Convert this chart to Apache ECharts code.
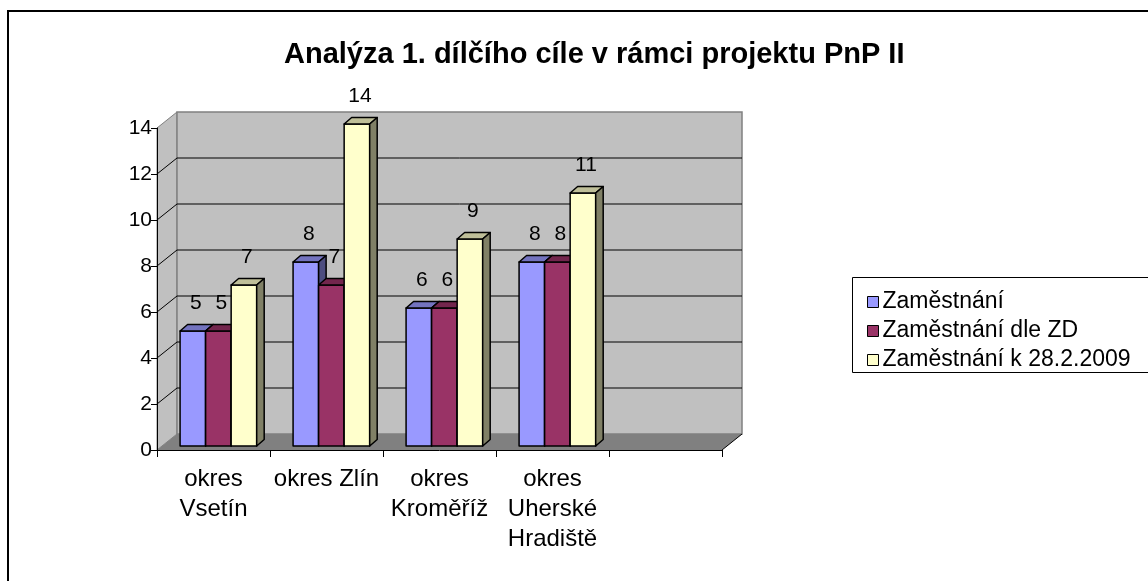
<!DOCTYPE html>
<html>
<head>
<meta charset="utf-8">
<script src="https://cdn.jsdelivr.net/npm/echarts@6/dist/echarts.min.js"></script>
<style>
  html, body { margin: 0; padding: 0; background: #fff; }
  #main { width: 1148px; height: 581px; }
</style>
</head>
<body>
<div id="main"></div>
<script>
// data
const categories = ['okres\nVsetín', 'okres Zlín', 'okres\nKroměříž', 'okres\nUherské\nHradiště', '']
const seriesNames = ['Zaměstnání', 'Zaměstnání dle ZD', 'Zaměstnání k 28.2.2009']
const zamestnani = [5, 8, 6, 8]
const zamestnaniZD = [5, 7, 6, 8]
const zamestnani2009 = [7, 14, 9, 11]
const yTicks = [0, 2, 4, 6, 8, 10, 12, 14]

const colors = ['#9999FF', '#993366', '#FFFFCC']
const FONT = 'Liberation Sans, Arial, sans-serif'
const yMax = yTicks[yTicks.length - 1]
const WALL_D = [20, -16]      // depth of the walls
const BAR_SHIFT = [5, -4]     // bars sit a bit behind the front plane
const BAR_D = [7.5, -6.5]     // depth of each bar

function shade(hex, f) {
  const n = parseInt(hex.slice(1), 16)
  const r = Math.round(((n >> 16) & 255) * f)
  const g = Math.round(((n >> 8) & 255) * f)
  const b = Math.round((n & 255) * f)
  return 'rgb(' + r + ',' + g + ',' + b + ')'
}

function renderWalls(params, api) {
  const band = api.size([1, 0])[0]
  const p0 = api.coord([0, 0])
  const pN = api.coord([categories.length - 1, 0])
  const x0 = p0[0] - band / 2
  const x1 = pN[0] + band / 2
  const yb = p0[1]
  const yt = api.coord([0, yMax])[1]
  const dx = WALL_D[0], dy = WALL_D[1]
  const children = [
    {
      type: 'polygon',
      shape: { points: [[x0, yt], [x0 + dx, yt + dy], [x0 + dx, yb + dy], [x0, yb]] },
      style: { fill: '#C0C0C0', stroke: '#808080', lineWidth: 1 }
    },
    {
      type: 'rect',
      shape: { x: x0 + dx, y: yt + dy, width: x1 - x0, height: yb - yt },
      style: { fill: '#C0C0C0', stroke: '#808080', lineWidth: 1.5 }
    },
    {
      type: 'polygon',
      shape: { points: [[x0, yb], [x1, yb], [x1 + dx, yb + dy], [x0 + dx, yb + dy]] },
      style: { fill: '#808080' }
    },
    {
      type: 'line',
      shape: { x1: x1, y1: yb, x2: x1 + dx, y2: yb + dy },
      style: { stroke: '#000', lineWidth: 1 }
    }
  ]
  yTicks.forEach(function (v) {
    if (v === 0 || v === yMax) return
    const y = api.coord([0, v])[1]
    children.push({
      type: 'line',
      shape: { x1: x0 + dx, y1: y + dy, x2: x1 + dx, y2: y + dy },
      style: { stroke: '#000', lineWidth: 1 }
    })
    children.push({
      type: 'line',
      shape: { x1: x0, y1: y, x2: x0 + dx, y2: y + dy },
      style: { stroke: '#000', lineWidth: 1 }
    })
  })
  return { type: 'group', children: children }
}

function makeBarRenderer(s) {
  return function (params, api) {
    const ci = api.value(0)
    const v = api.value(1)
    const band = api.size([1, 0])[0]
    const top = api.coord([ci, v])
    const base = api.coord([ci, 0])
    const w = band * 0.226
    const xl = top[0] - band / 2 + band * 0.16 + w * s + BAR_SHIFT[0]
    const xr = xl + w
    const yt = top[1] + BAR_SHIFT[1]
    const yb = base[1] + BAR_SHIFT[1]
    const dx = BAR_D[0], dy = BAR_D[1]
    const c = colors[s]
    const line = { stroke: '#000', lineWidth: 1.5, lineJoin: 'round' }
    return {
      type: 'group',
      children: [
        {
          type: 'rect',
          shape: { x: xl, y: yt, width: w, height: yb - yt },
          style: Object.assign({ fill: c }, line)
        },
        {
          type: 'polygon',
          shape: { points: [[xl, yt], [xl + dx, yt + dy], [xr + dx, yt + dy], [xr, yt]] },
          style: Object.assign({ fill: shade(c, 0.75) }, line)
        },
        {
          type: 'polygon',
          shape: { points: [[xr, yt], [xr + dx, yt + dy], [xr + dx, yb + dy], [xr, yb]] },
          style: Object.assign({ fill: shade(c, 0.5) }, line)
        },
        {
          type: 'text',
          style: {
            x: xl + w / 2 + 3,
            y: yt - 28,
            text: String(v),
            textAlign: 'center',
            textVerticalAlign: 'middle',
            fill: '#000',
            font: '21px ' + FONT
          }
        }
      ]
    }
  }
}

const seriesData = [zamestnani, zamestnaniZD, zamestnani2009]

const option = {
  animation: false,
  backgroundColor: '#fff',
  title: {
    text: 'Analýza 1. dílčího cíle v rámci projektu PnP II',
    left: 279,
    top: 35,
    textStyle: { fontFamily: FONT, fontSize: 29, fontWeight: 'bold', color: '#000' }
  },
  graphic: [
    {
      type: 'rect',
      shape: { x: 8, y: 11, width: 1300, height: 700 },
      style: { fill: 'none', stroke: '#000', lineWidth: 2 },
      silent: true
    },
    {
      type: 'rect',
      shape: { x: 852.5, y: 277.5, width: 400, height: 95 },
      style: { fill: '#fff', stroke: '#000', lineWidth: 1 },
      silent: true,
      z: -1
    }
  ],
  legend: {
    orient: 'vertical',
    left: 862,
    top: 285,
    data: seriesNames,
    icon: 'rect',
    itemWidth: 11,
    itemHeight: 11,
    itemGap: 5,
    itemStyle: { borderColor: '#000', borderWidth: 1 },
    textStyle: { fontFamily: FONT, fontSize: 23, color: '#000', lineHeight: 24, padding: [0, 0, 0, -1] }
  },
  grid: { left: 157, right: 426, top: 128, bottom: 131 },
  xAxis: {
    type: 'category',
    data: categories,
    z: 10,
    axisLine: { lineStyle: { color: '#000', width: 1 } },
    axisTick: { show: true, length: 7, interval: 0, lineStyle: { color: '#000' } },
    axisLabel: { interval: 0, fontFamily: FONT, fontSize: 24, color: '#000', lineHeight: 30, margin: 14 },
    splitLine: { show: false }
  },
  yAxis: {
    type: 'value',
    min: 0,
    max: yMax,
    interval: 2,
    z: 10,
    axisLine: { show: true, lineStyle: { color: '#000', width: 1 } },
    axisTick: { show: true, length: 6, lineStyle: { color: '#000' } },
    axisLabel: { fontFamily: FONT, fontSize: 21, color: '#000', margin: 5 },
    splitLine: { show: false }
  },
  series: [
    {
      type: 'custom',
      name: 'walls',
      z: 1,
      silent: true,
      renderItem: renderWalls,
      data: [[0, 0]]
    }
  ].concat(seriesNames.map(function (name, s) {
    return {
      type: 'custom',
      name: name,
      z: 3,
      itemStyle: { color: colors[s] },
      renderItem: makeBarRenderer(s),
      data: seriesData[s].map(function (v, i) { return [i, v] })
    }
  }))
}

const chart = echarts.init(document.getElementById('main'))
chart.setOption(option)
</script>
</body>
</html>
